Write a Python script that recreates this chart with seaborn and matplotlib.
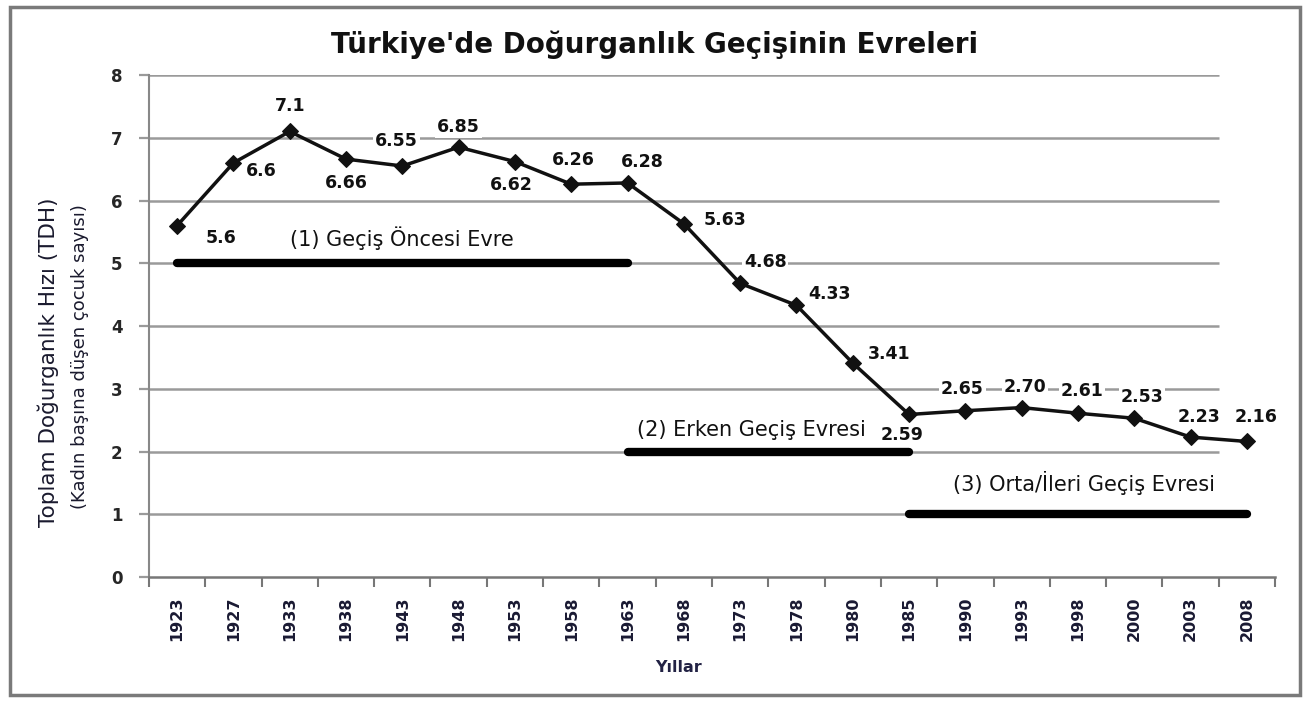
import numpy as np
import pandas as pd
import matplotlib
matplotlib.use("Agg")
import matplotlib.pyplot as plt
import seaborn as sns
from matplotlib.patches import Rectangle

# data
years = ["1923", "1927", "1933", "1938", "1943", "1948", "1953", "1958", "1963", "1968",
         "1973", "1978", "1980", "1985", "1990", "1993", "1998", "2000", "2003", "2008"]
tfr = [5.6, 6.6, 7.1, 6.66, 6.55, 6.85, 6.62, 6.26, 6.28, 5.63,
       4.68, 4.33, 3.41, 2.59, 2.65, 2.70, 2.61, 2.53, 2.23, 2.16]
tfr_labels = ["5.6", "6.6", "7.1", "6.66", "6.55", "6.85", "6.62", "6.26", "6.28", "5.63",
              "4.68", "4.33", "3.41", "2.59", "2.65", "2.70", "2.61", "2.53", "2.23", "2.16"]

phase_names = ["(1) Geçiş Öncesi Evre", "(2) Erken Geçiş Evresi", "(3) Orta/İleri Geçiş Evresi"]
phase_start = ["1923", "1963", "1985"]
phase_end = ["1963", "1985", "2008"]
phase_level = [5, 2, 1]

# label offsets in pixels (dx, dy)
label_off = [(44, -12), (28, -8), (0, 25), (0, -24), (-6, 25), (0, 20), (-4, -23), (2, 24),
             (15, 21), (41, 4), (25, 21), (33, 11), (36, 9), (-7, -21), (-3, 22), (3, 21),
             (4, 22), (8, 21), (8, 20), (9, 24)]

df = pd.DataFrame({"Yil": years, "TDH": tfr})

sns.set_style("white")
plt.rcParams["font.family"] = ["DejaVu Sans"]

fig = plt.figure(figsize=(13.08, 7.03), dpi=100)
ax = fig.add_axes([0.1139, 0.1792, 0.8609, 0.7141])

sns.lineplot(data=df, x="Yil", y="TDH", sort=False, color="#111111", linewidth=2.5,
             marker="D", markersize=8, markeredgecolor="#111111", ax=ax, zorder=4)

for i in range(len(years)):
    ax.annotate(tfr_labels[i], (i, tfr[i]), xytext=label_off[i], textcoords="offset pixels",
                ha="center", va="center", fontsize=12.5, fontweight="bold", color="#111111",
                zorder=5, bbox=dict(boxstyle="square,pad=0.1", fc="white", ec="none"))

# phase bars
for s, e, lv in zip(phase_start, phase_end, phase_level):
    ax.plot([s, e], [lv, lv], color="black", linewidth=6, solid_capstyle="round", zorder=3)

ax.text(4.0, 5.4, phase_names[0], ha="center", va="center", fontsize=15, color="#111111")
ax.text(10.2, 2.34, phase_names[1], ha="center", va="center", fontsize=15, color="#111111")
ax.text(16.1, 1.5, phase_names[2], ha="center", va="center", fontsize=15, color="#111111")

ax.set_xlim(-0.5, len(years) - 0.5)
ax.set_ylim(0, 8)
ax.set_yticks(range(0, 9))
# gridlines stop a little before the end of the axis, as in the original
ax.hlines(range(1, 9), -0.5, 18.5, color="#9a9a9a", linewidth=1.8, zorder=1)

ax.set_xticks(np.arange(len(years)))
ax.set_xticklabels(years, rotation=90, fontsize=11.5, fontweight="bold", color="#1a1a33")
ax.set_xticks(np.arange(len(years) + 1) - 0.5, minor=True)
ax.tick_params(axis="x", which="major", bottom=False, length=0, pad=14)
ax.tick_params(axis="x", which="minor", bottom=True, length=7, width=1.5, color="#777777",
               direction="out")
ax.tick_params(axis="y", left=True, length=7, width=1.6, color="#9a9a9a", labelsize=12, pad=12)
for t in ax.get_yticklabels():
    t.set_fontweight("bold")

for sp in ["top", "right"]:
    ax.spines[sp].set_visible(False)
ax.spines["left"].set_color("#888888")
ax.spines["bottom"].set_color("#777777")
ax.spines["left"].set_linewidth(1.5)
ax.spines["bottom"].set_linewidth(1.8)
ax.set_xlabel("")
ax.set_ylabel("")

fig.text(0.5008, 0.936, "Türkiye'de Doğurganlık Geçişinin Evreleri", ha="center", va="center",
         fontsize=20, fontweight="bold", color="#111111")
fig.text(48 / 1308, 1 - 362 / 703, "Toplam Doğurganlık Hızı (TDH)", rotation=90,
         ha="center", va="center", fontsize=15.5, color="#1a1a2e")
fig.text(80 / 1308, 1 - 357 / 703, "(Kadın başına düşen çocuk sayısı)", rotation=90,
         ha="center", va="center", fontsize=13, color="#1a1a2e")
fig.text(679 / 1308, 1 - 668 / 703, "Yıllar", ha="center", va="center", fontsize=11.5,
         fontweight="bold", color="#222244")

fig.patches.append(Rectangle((10 / 1308, 8 / 703), 1290 / 1308, 688 / 703,
                             transform=fig.transFigure, fill=False, ec="#7a7a7a", lw=2.5))

fig.savefig("out.png", dpi=100)
